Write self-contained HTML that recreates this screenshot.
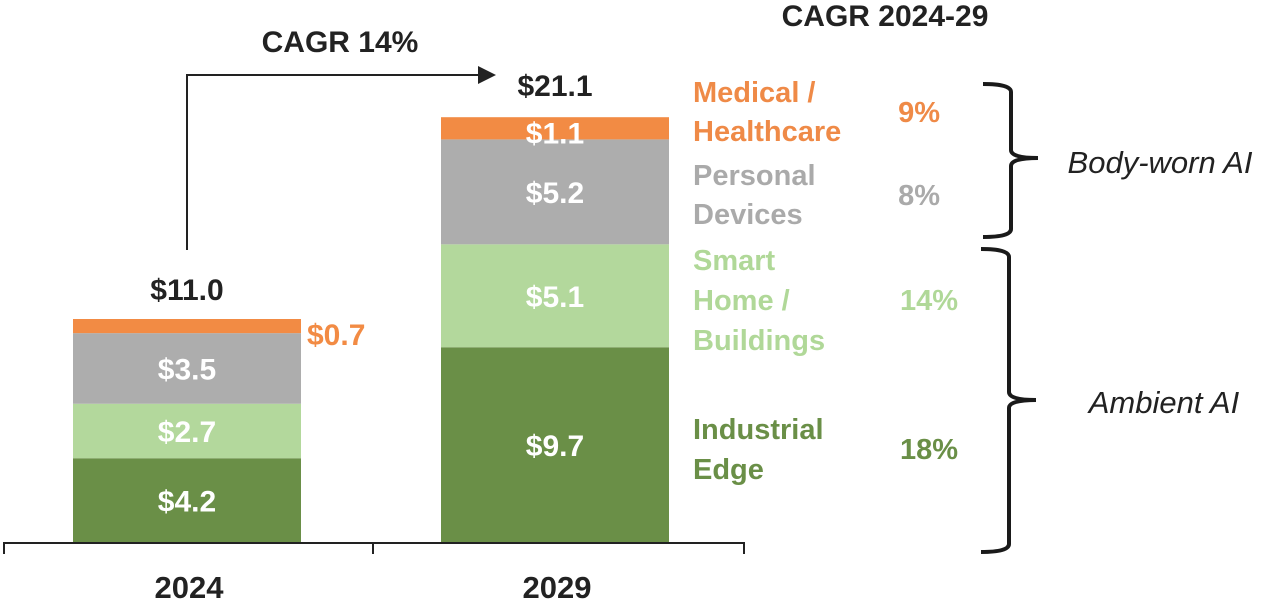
<!DOCTYPE html>
<html><head><meta charset="utf-8"><style>
html,body{margin:0;padding:0;background:#fff;}
svg text{font-family:"Liberation Sans",sans-serif;font-weight:bold;}
</style></head><body>
<svg width="1267" height="603" viewBox="0 0 1267 603" xmlns="http://www.w3.org/2000/svg">
<g id="bars"></g>
<g stroke="#222" stroke-width="2" fill="none">
<path d="M4 554 V543 H744 V554 M373 543 V554"/>
</g>
<text x="189" y="598" font-size="31" fill="#222" text-anchor="middle">2024</text>
<text x="557" y="598" font-size="31" fill="#222" text-anchor="middle">2029</text>
<g>
<path d="M187 250 V75 H482" stroke="#222" stroke-width="2" fill="none"/>
<polygon points="478,66 496,75 478,84" fill="#222"/>
</g>
<text x="340" y="52" font-size="30" fill="#222" text-anchor="middle">CAGR 14%</text>
<text x="885" y="26" font-size="30" fill="#222" text-anchor="middle">CAGR 2024-29</text>
<g font-size="29">
<text x="693" y="102" fill="#EF8A47">Medical /</text>
<text x="693" y="141" fill="#EF8A47">Healthcare</text>
<text x="693" y="185" fill="#AAAAAA">Personal</text>
<text x="693" y="224" fill="#AAAAAA">Devices</text>
<text x="693" y="270" fill="#B0D898">Smart</text>
<text x="693" y="310" fill="#B0D898">Home /</text>
<text x="693" y="350" fill="#B0D898">Buildings</text>
<text x="693" y="439" fill="#6A8F47">Industrial</text>
<text x="693" y="479" fill="#6A8F47">Edge</text>
<text x="940" y="122" fill="#EF8A47" text-anchor="end">9%</text>
<text x="940" y="205" fill="#AAAAAA" text-anchor="end">8%</text>
<text x="958" y="310" fill="#B0D898" text-anchor="end">14%</text>
<text x="958" y="459" fill="#6A8F47" text-anchor="end">18%</text>
</g>
<g stroke="#1a1a1a" stroke-width="4" fill="none">
<path d="M983 84 Q1011 84 1011 92 V150 Q1011 158 1038 158 Q1011 158 1011 166 V229 Q1011 237 983 237"/>
<path d="M981 249 Q1009 249 1009 257 V392 Q1009 400 1036 400 Q1009 400 1009 408 V544 Q1009 552 981 552"/>
</g>
<text x="1160" y="173" font-size="31" fill="#222" text-anchor="middle" font-style="italic" style="font-weight:normal">Body-worn AI</text>
<text x="1164" y="413" font-size="31" fill="#222" text-anchor="middle" font-style="italic" style="font-weight:normal">Ambient AI</text>
</svg>
<script>
const years = ["2024","2029"];
const segments = ["Industrial Edge","Smart Home / Buildings","Personal Devices","Medical / Healthcare"];
const values2024 = [4.2, 2.7, 3.5, 0.7];
const values2029 = [9.7, 5.1, 5.2, 1.1];
const totals = [11.0, 21.1];
const colors = ["#6A8F47","#B3D89C","#ADADAD","#F28B44"];
const NS = "http://www.w3.org/2000/svg";
const g = document.getElementById("bars");
const y0 = 543, pxPerUnit = 20.18;
const yS = v => y0 - v * pxPerUnit;
const barX = [73, 441], barW = 228;
[values2024, values2029].forEach((vals, i) => {
  let cum = 0;
  vals.forEach((v, j) => {
    const r = document.createElementNS(NS, "rect");
    r.setAttribute("x", barX[i]);
    r.setAttribute("y", yS(cum + v));
    r.setAttribute("width", barW);
    r.setAttribute("height", v * pxPerUnit);
    r.setAttribute("fill", colors[j]);
    
    
    g.appendChild(r);
    const t = document.createElementNS(NS, "text");
    const label = "$" + v.toFixed(1);
    if (j === 3 && i === 0) {
      t.setAttribute("x", barX[i] + barW + 6);
      t.setAttribute("y", yS(cum + v / 2) + 19);
      t.setAttribute("fill", colors[3]);
    } else {
      t.setAttribute("x", barX[i] + barW / 2);
      t.setAttribute("text-anchor", "middle");
      t.setAttribute("y", yS(cum + v / 2) + 11 + (j === 3 ? 4 : 0));
      t.setAttribute("fill", "#fff");
    }
    t.setAttribute("font-size", "30");
    t.textContent = label;
    
    
    g.appendChild(t);
    cum += v;
  });
  const tt = document.createElementNS(NS, "text");
  tt.setAttribute("x", barX[i] + barW / 2);
  tt.setAttribute("y", yS(totals[i]) - 21);
  tt.setAttribute("text-anchor", "middle");
  tt.setAttribute("font-size", "30");
  tt.setAttribute("fill", "#222");
  tt.textContent = "$" + totals[i].toFixed(1);
  
  
  g.appendChild(tt);
});
</script>
</body></html>
